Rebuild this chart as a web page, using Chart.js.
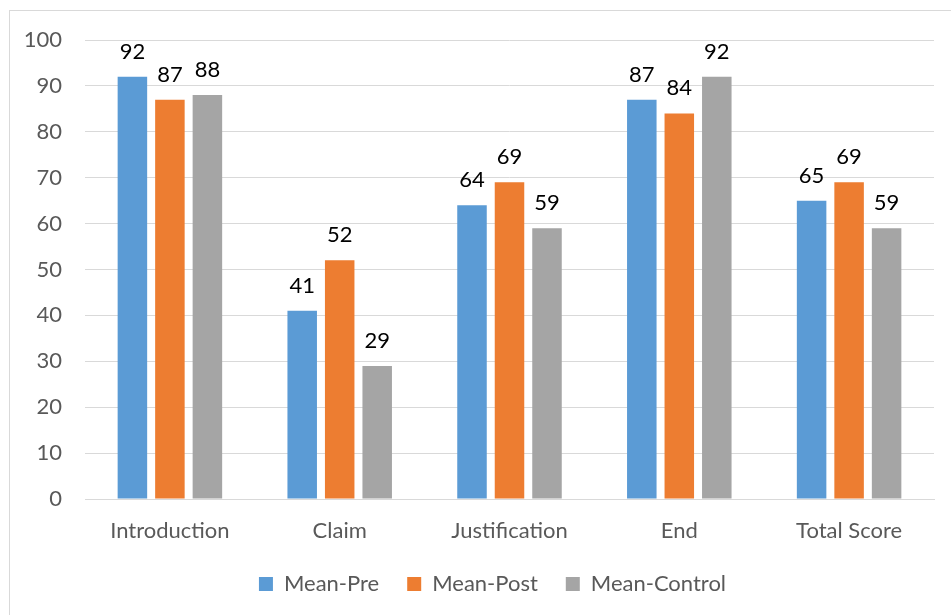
<!DOCTYPE html>
<html>
<head>
<meta charset="utf-8">
<script src="https://cdn.jsdelivr.net/npm/chart.js@4/dist/chart.umd.min.js"></script>
<style>
  html, body { margin: 0; padding: 0; background: #fff; }
  #wrap { width: 951px; height: 615px; position: relative; }
</style>
</head>
<body>
<div id="wrap"><canvas id="c" width="951" height="615"></canvas></div>
<script>
const categories = ['Introduction', 'Claim', 'Justification', 'End', 'Total Score'];
const meanPre = [92, 41, 64, 87, 65];
const meanPost = [87, 52, 69, 84, 69];
const meanControl = [88, 29, 59, 92, 59];
const yTicks = [0, 10, 20, 30, 40, 50, 60, 70, 80, 90, 100];

const FONT = 'Lato, "Open Sans", sans-serif';
const FONT_SIZE = 22;

// Outer frame around the chart
const framePlugin = {
  id: 'frame',
  beforeDraw(chart) {
    const ctx = chart.ctx;
    ctx.save();
    ctx.fillStyle = '#fff';
    ctx.fillRect(0, 0, chart.width, chart.height);
    ctx.strokeStyle = '#d9d9d9';
    ctx.lineWidth = 1;
    ctx.strokeRect(9.5, 10.5, chart.width + 20, chart.height + 20);
    ctx.restore();
  }
};

// Nudge the legend so it sits under the middle of the plot
const legendShift = {
  id: 'legendShift',
  afterLayout(chart) {
    const lg = chart.legend;
    if (lg) { lg.left += 21; lg.right += 21; }
  }
};

// Value labels above each bar
const valueLabels = {
  id: 'valueLabels',
  afterDatasetsDraw(chart) {
    const ctx = chart.ctx;
    ctx.save();
    ctx.font = FONT_SIZE + 'px ' + FONT;
    ctx.fillStyle = '#000';
    ctx.textAlign = 'center';
    ctx.textBaseline = 'alphabetic';
    chart.data.datasets.forEach((ds, i) => {
      chart.getDatasetMeta(i).data.forEach((bar, j) => {
        ctx.fillText(String(ds.data[j]), bar.x, bar.y - 18);
      });
    });
    ctx.restore();
  }
};

new Chart(document.getElementById('c'), {
  type: 'bar',
  data: {
    labels: categories,
    datasets: [
      { label: 'Mean-Pre', data: meanPre, backgroundColor: '#5b9bd5' },
      { label: 'Mean-Post', data: meanPost, backgroundColor: '#ed7d31' },
      { label: 'Mean-Control', data: meanControl, backgroundColor: '#a5a5a5' }
    ]
  },
  options: {
    responsive: false,
    animation: false,
    devicePixelRatio: 1,
    layout: { padding: { left: 9, right: 17, top: 40, bottom: 10 } },
    datasets: { bar: { categoryPercentage: 0.6625, barPercentage: 0.787 } },
    scales: {
      x: {
        grid: { display: false, drawTicks: false },
        border: { color: '#d9d9d9', width: 1 },
        ticks: { color: '#595959', font: { family: FONT, size: FONT_SIZE }, padding: 19 },
        afterFit(s) { s.height = 46; }
      },
      y: {
        min: 0, max: 100,
        grid: { color: '#d9d9d9', drawTicks: false },
        border: { display: false },
        afterBuildTicks(s) { s.ticks = yTicks.map(v => ({ value: v })); },
        ticks: { color: '#595959', font: { family: FONT, size: FONT_SIZE }, padding: 23 },
        afterFit(s) { s.width = 76; }
      }
    },
    plugins: {
      legend: {
        position: 'bottom',
        labels: {
          color: '#595959',
          font: { family: FONT, size: FONT_SIZE },
          boxWidth: 14, boxHeight: 14,
          padding: 28
        }
      },
      tooltip: { enabled: false }
    }
  },
  plugins: [framePlugin, legendShift, valueLabels]
});
</script>
</body>
</html>
